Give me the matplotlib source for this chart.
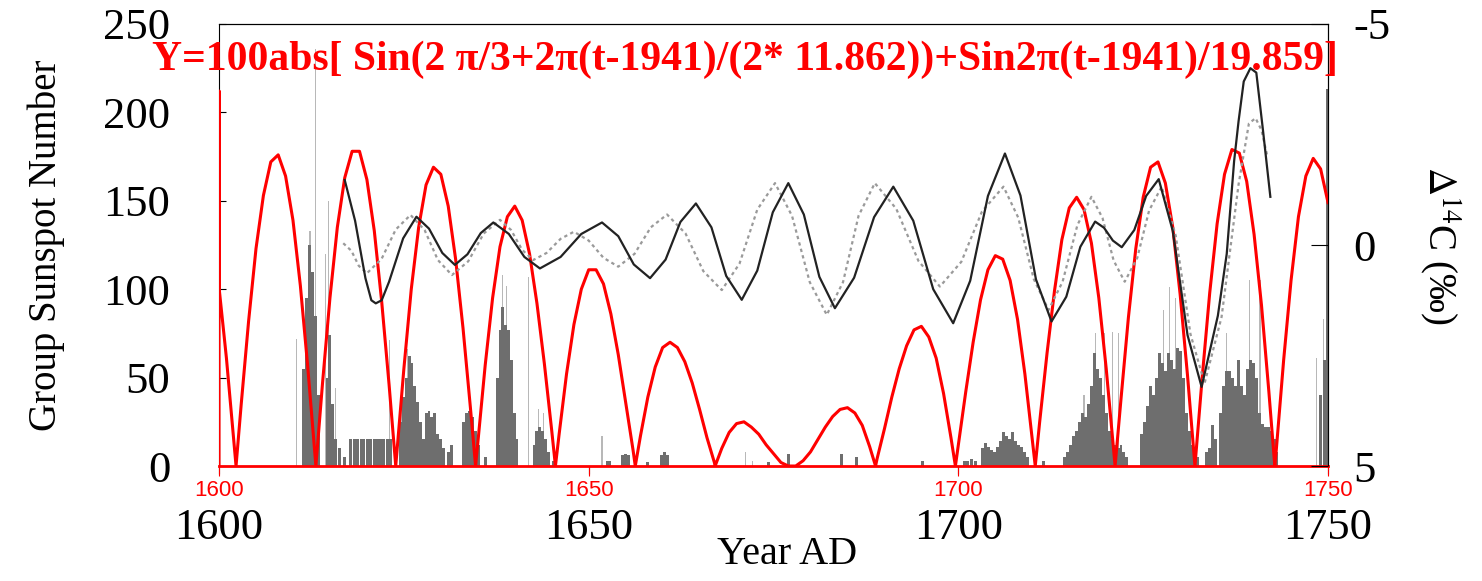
import matplotlib.pyplot as plt

plt.rcParams['font.family'] = ['Liberation Serif', 'DejaVu Serif']
plt.rcParams['mathtext.fontset'] = 'stix'
plt.rcParams['axes.unicode_minus'] = False

# red model curve, 100abs[...]
red_years = [1600, 1600, 1600, 1601, 1602, 1602.3, 1603, 1604, 1605, 1606, 1607, 1608, 1609, 1610,
             1611, 1612, 1613, 1613.1, 1614, 1615, 1616, 1617, 1618, 1619, 1620, 1621, 1622, 1623,
             1623.9, 1624, 1625, 1626, 1627, 1628, 1629, 1630, 1631, 1632, 1633, 1634, 1634.7, 1635,
             1636, 1637, 1638, 1639, 1640, 1641, 1642, 1643, 1644, 1645, 1645.5, 1646, 1647, 1648,
             1649, 1650, 1651, 1652, 1653, 1654, 1655, 1656, 1656.3, 1657, 1658, 1659, 1660, 1661,
             1662, 1663, 1664, 1665, 1666, 1667, 1667.1, 1668, 1669, 1670, 1671, 1672, 1673, 1674,
             1675, 1676, 1677, 1678, 1679, 1680, 1681, 1682, 1683, 1684, 1685, 1686, 1687, 1688,
             1688.8, 1689, 1690, 1691, 1692, 1693, 1694, 1695, 1696, 1697, 1698, 1699, 1699.6, 1700,
             1701, 1702, 1703, 1704, 1705, 1706, 1707, 1708, 1709, 1710, 1710.4, 1711, 1712, 1713,
             1714, 1715, 1716, 1717, 1718, 1719, 1720, 1721, 1721.2, 1722, 1723, 1724, 1725, 1726,
             1727, 1728, 1729, 1730, 1731, 1732, 1733, 1734, 1735, 1736, 1737, 1738, 1739, 1740,
             1741, 1742, 1742.8, 1743, 1744, 1745, 1746, 1747, 1748, 1749, 1750]
red_vals = [0, 212, 101, 61, 14, 0, 35, 82, 123, 153, 172, 176, 164, 139,
            102, 56, 5, 0, 47, 95, 135, 163, 178, 178, 162, 133, 93, 46,
            0, 5, 55, 100, 135, 159, 169, 165, 147, 117, 78, 33, 0, 13,
            57, 95, 124, 141, 147, 139, 120, 92, 58, 20, 0, 18, 52, 80,
            100, 111, 111, 103, 86, 63, 36, 9, 0, 17, 39, 56, 67, 70,
            67, 59, 47, 32, 16, 2, 0, 10, 19, 24, 25, 22, 18, 12,
            7, 2, 0, 0, 3, 8, 15, 22, 28, 32, 33, 30, 23, 11,
            0, 4, 21, 39, 55, 68, 77, 79, 73, 61, 41, 16, 0, 12,
            42, 70, 94, 111, 119, 117, 105, 83, 52, 15, 0, 25, 64, 99,
            128, 146, 152, 145, 126, 95, 55, 9, 0, 38, 84, 123, 152, 169,
            172, 160, 135, 97, 51, 0, 51, 98, 137, 165, 179, 177, 161, 131,
            91, 42, 0, 9, 60, 105, 141, 164, 174, 168, 149]

# delta 14C, solid curve (right axis, permil)
c14_years = [1617.0, 1618.4, 1619.8, 1620.6, 1621.2, 1622.0, 1623.0, 1624.9, 1626.7, 1628.4,
             1630.2, 1631.9, 1633.6, 1635.4, 1637.1, 1639.2, 1641.3, 1643.4, 1646.2, 1649.0,
             1651.8, 1654.0, 1656.1, 1658.3, 1660.4, 1662.4, 1664.5, 1666.6, 1668.6, 1670.7,
             1672.8, 1674.9, 1677.0, 1679.1, 1681.2, 1683.3, 1685.9, 1688.6, 1691.2, 1693.9,
             1696.6, 1699.3, 1701.6, 1704.0, 1706.3, 1708.4, 1710.5, 1712.6, 1714.6, 1716.5,
             1718.5, 1719.7, 1720.9, 1722.1, 1723.8, 1725.4, 1727.1, 1729.0, 1731.0, 1732.9,
             1735.1, 1736.3, 1737.3, 1737.9, 1738.6, 1739.5, 1740.3, 1741.2, 1742.2]
c14_vals = [-1.47, -0.55, 0.75, 1.25, 1.32, 1.25, 0.83, -0.15, -0.64, -0.37,
            0.18, 0.45, 0.21, -0.27, -0.51, -0.25, 0.27, 0.53, 0.27, -0.25,
            -0.51, -0.20, 0.44, 0.75, 0.33, -0.52, -0.94, -0.40, 0.70, 1.24,
            0.58, -0.74, -1.40, -0.69, 0.72, 1.43, 0.74, -0.63, -1.32, -0.55,
            1.00, 1.77, 0.81, -1.11, -2.07, -1.12, 0.78, 1.73, 1.17, 0.04,
            -0.53, -0.39, -0.10, 0.05, -0.34, -1.11, -1.49, -0.32, 2.04, 3.21,
            1.60, 0.20, -1.90, -2.80, -3.70, -4.00, -3.90, -2.60, -1.09]

# delta 14C, dotted curve
c14b_years = [1616.8, 1617.9, 1618.9, 1620.0, 1622.0, 1623.9, 1625.9, 1627.8, 1629.6, 1631.5,
              1633.7, 1635.8, 1638.0, 1639.5, 1641.0, 1642.5, 1644.3, 1646.2, 1648.0, 1650.0,
              1652.0, 1654.0, 1656.2, 1658.4, 1660.6, 1663.1, 1665.5, 1668.0, 1670.4, 1672.8,
              1675.2, 1677.5, 1679.9, 1682.2, 1684.4, 1686.5, 1688.7, 1691.6, 1694.6, 1697.5,
              1700.4, 1703.2, 1706.1, 1708.1, 1710.2, 1712.2, 1714.1, 1716.1, 1718.0, 1719.5,
              1721.0, 1722.5, 1724.2, 1725.8, 1727.5, 1729.4, 1731.4, 1733.3, 1735.6, 1737.9,
              1739.3, 1740.2, 1741.0, 1741.8]
c14b_vals = [-0.04, 0.13, 0.47, 0.64, 0.31, -0.35, -0.68, -0.34, 0.34, 0.68,
             0.37, -0.26, -0.57, -0.34, 0.11, 0.34, 0.18, -0.14, -0.30, -0.10,
             0.29, 0.49, 0.20, -0.40, -0.69, -0.26, 0.59, 1.02, 0.42, -0.80,
             -1.40, -0.66, 0.84, 1.58, 0.84, -0.66, -1.40, -0.82, 0.36, 0.94,
             0.38, -0.76, -1.32, -0.62, 0.77, 1.47, 0.83, -0.45, -1.09, -0.61,
             0.35, 0.83, 0.29, -0.78, -1.32, -0.21, 2.02, 3.13, 1.63, -1.37,
             -2.75, -2.87, -2.60, -2.00]

# group sunspot number, dark bars
spot_years = [1611.4, 1611.8, 1612.2, 1612.6, 1613.0, 1613.4, 1614.6, 1615.0, 1615.4, 1615.7,
              1616.3, 1617.0, 1617.8, 1618.3, 1618.7, 1619.2, 1619.6, 1620.1, 1620.5, 1621.0,
              1621.4, 1621.9, 1622.3, 1622.8, 1623.2, 1624.5, 1624.9, 1625.3, 1625.7, 1626.1,
              1626.5, 1626.9, 1627.3, 1627.7, 1628.0, 1628.4, 1628.8, 1629.2, 1629.6, 1630.0,
              1630.4, 1631.0, 1631.4, 1633.1, 1633.5, 1633.9, 1634.3, 1634.7, 1635.1, 1636.0,
              1637.6, 1638.0, 1638.4, 1638.8, 1639.2, 1639.6, 1640.0, 1640.3, 1642.6, 1643.0,
              1643.4, 1643.8, 1644.2, 1644.6, 1645.2, 1652.5, 1652.8, 1654.6, 1655.0, 1655.4,
              1657.9, 1659.9, 1660.3, 1660.7, 1674.3, 1677.0, 1684.2, 1686.2, 1695.2, 1700.8,
              1701.3, 1701.8, 1702.3, 1703.3, 1703.7, 1704.1, 1704.5, 1704.9, 1705.3, 1705.7,
              1706.1, 1706.5, 1706.9, 1707.3, 1707.7, 1708.1, 1708.5, 1708.9, 1709.3, 1711.5,
              1714.4, 1714.8, 1715.2, 1715.6, 1716.0, 1716.4, 1716.8, 1717.2, 1717.6, 1718.0,
              1718.4, 1718.8, 1719.2, 1719.6, 1720.0, 1720.4, 1720.8, 1721.2, 1721.6, 1722.0,
              1722.4, 1722.8, 1724.8, 1725.2, 1725.6, 1726.0, 1726.4, 1726.8, 1727.2, 1727.6,
              1728.0, 1728.4, 1728.8, 1729.2, 1729.6, 1730.0, 1730.4, 1730.8, 1731.2, 1731.6,
              1732.0, 1732.4, 1733.5, 1734.0, 1734.4, 1734.8, 1735.5, 1735.9, 1736.3, 1736.7,
              1737.1, 1737.5, 1737.9, 1738.3, 1738.7, 1739.1, 1739.5, 1739.9, 1740.3, 1740.7,
              1741.1, 1741.5, 1741.9, 1742.3, 1742.7, 1743.1, 1749.0, 1749.5, 1749.9]
spot_vals = [55, 95, 125, 110, 85, 40, 50, 74, 35, 15,
             10, 5, 15, 15, 15, 15, 15, 15, 15, 15,
             15, 15, 15, 15, 15, 25, 39, 50, 62, 58,
             45, 36, 25, 15, 30, 31, 28, 30, 18, 15,
             10, 8, 12, 25, 30, 31, 28, 20, 12, 5,
             50, 77, 90, 80, 77, 60, 30, 15, 12, 20,
             22, 20, 15, 8, 3, 3, 3, 6, 7, 6,
             2, 6, 8, 6, 2, 7, 7, 5, 3, 3,
             3, 4, 3, 10, 13, 11, 9, 8, 11, 14,
             19, 17, 15, 19, 14, 12, 11, 8, 5, 3,
             5, 8, 12, 17, 20, 25, 30, 28, 35, 45,
             64, 55, 50, 40, 30, 20, 15, 12, 10, 12,
             8, 5, 18, 25, 34, 45, 40, 50, 64, 58,
             54, 64, 60, 55, 67, 65, 50, 30, 20, 12,
             8, 5, 8, 10, 23, 15, 30, 45, 54, 54,
             50, 45, 60, 45, 40, 55, 60, 58, 50, 30,
             24, 22, 22, 20, 15, 8, 40, 60, 213]

# lighter single spikes
spike_years = [1610.5, 1612.3, 1613.1, 1614.4, 1614.8, 1615.8, 1623.1, 1624.7, 1625.5, 1638.3,
               1638.9, 1641.8, 1643.2, 1643.9, 1651.8, 1671.2, 1672.2, 1717.0, 1718.6, 1719.8,
               1720.9, 1721.7, 1727.8, 1728.6, 1729.4, 1736.3, 1739.4, 1740.8, 1748.5, 1749.4]
spike_vals = [72, 133, 236, 120, 150, 44, 71, 45, 66, 108,
              102, 107, 32, 30, 17, 8, 3, 40, 75, 75,
              76, 75, 88, 101, 95, 75, 105, 105, 61, 83]

year_ticks = [1600, 1650, 1700, 1750]

fig = plt.figure(figsize=(14.82, 5.81), dpi=100)
ax = fig.add_axes([0.1478, 0.1979, 0.7483, 0.7608])

ax.bar(spike_years, spike_vals, width=0.15, color='#b8b8b8', zorder=1)
ax.bar(spot_years, spot_vals, width=0.4, color='#6e6e6e', zorder=2)
ax.plot(red_years, red_vals, color='red', linewidth=2.2, zorder=4)

ax.set_xlim(1600, 1750)
ax.set_ylim(0, 250)
ax.set_yticks([0, 50, 100, 150, 200, 250])
ax.set_xticks(year_ticks)
ax.tick_params(axis='y', direction='in', length=5, pad=35, labelsize=32)
ax.tick_params(axis='x', direction='out', length=6, pad=24, labelsize=32)
ax.set_ylabel('Group Sunspot Number', fontsize=28)
ax.yaxis.set_label_coords(-0.139, 0.5)
ax.set_xlabel('Year AD', fontsize=29)
ax.xaxis.set_label_coords(0.512, -0.158)
ax.spines['bottom'].set_color('red')
ax.spines['bottom'].set_linewidth(2)

# right axis: delta 14C, inverted
ax2 = ax.twinx()
ax2.plot(c14b_years, c14b_vals, color='#9a9a9a', linewidth=1.6, linestyle=(0, (1.5, 1.5)))
ax2.plot(c14_years, c14_vals, color='#222222', linewidth=1.6)
ax2.set_ylim(5, -5)
ax2.set_yticks([-5, 0, 5])
ax2.tick_params(axis='y', direction='in', length=12, pad=18, labelsize=32)
ax2.set_ylabel(r'$\Delta^{14}$C (‰)', fontsize=28, rotation=270, labelpad=52)
ax2.spines['bottom'].set_visible(False)
ax2.spines['left'].set_visible(False)

# red overlay axis for the model curve
ax_r = ax.twiny()
ax_r.set_xlim(1600, 1750)
ax_r.set_xticks(year_ticks)
ax_r.xaxis.set_ticks_position('bottom')
ax_r.xaxis.set_label_position('bottom')
ax_r.tick_params(axis='x', direction='out', length=7, pad=3, colors='red', labelsize=16)
for lab in ax_r.get_xticklabels():
    lab.set_family('Liberation Sans')
for side in ['top', 'left', 'right', 'bottom']:
    ax_r.spines[side].set_visible(False)

fig.text(152 / 1482, 1 - 60 / 581,
         'Y=100abs[ Sin(2 \u03c0/3+2\u03c0(t-1941)/(2* 11.862))+Sin2\u03c0(t-1941)/19.859]',
         color='red', fontsize=30, fontweight='bold', ha='left', va='center')

fig.savefig('out.png', dpi=100)
